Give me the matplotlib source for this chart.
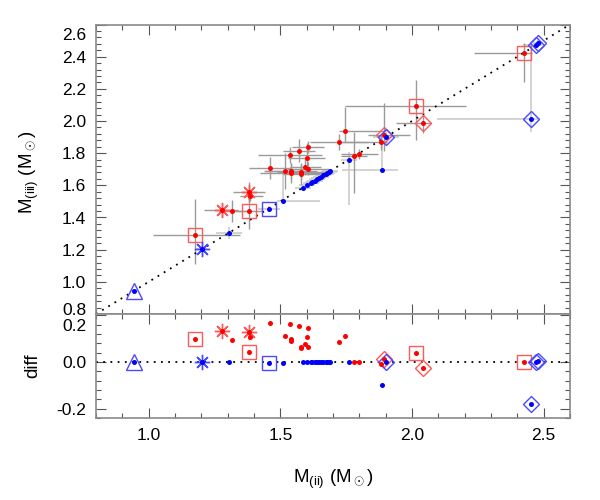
import numpy as np
import matplotlib
matplotlib.use('Agg')
from matplotlib import pyplot as plt
from matplotlib.ticker import MultipleLocator, FormatStrFormatter
from matplotlib.transforms import ScaledTranslation

plt.rcParams['font.family'] = ['Liberation Sans', 'DejaVu Sans']
plt.rcParams['mathtext.fontset'] = 'custom'
plt.rcParams['mathtext.rm'] = 'Liberation Sans'
plt.rcParams['mathtext.it'] = 'Liberation Sans:italic'

# red sample: M(ii), M(iii), asymmetric errors, symbol
red_x = [1.177, 1.279, 1.318, 1.382, 1.382, 1.385, 1.462, 1.519, 1.541, 1.541,
         1.579, 1.579, 1.595, 1.604, 1.537, 1.572, 1.604, 1.601, 1.722, 1.744,
         1.781, 1.799, 1.884, 1.894, 2.015, 2.041, 2.425]
red_y = [1.292, 1.446, 1.441, 1.441, 1.558, 1.535, 1.707, 1.690, 1.690, 1.676,
         1.682, 1.670, 1.717, 1.703, 1.788, 1.815, 1.838, 1.773, 1.871, 1.940,
         1.780, 1.796, 1.871, 1.915, 2.093, 1.985, 2.425]
red_xlo = [0.16, 0.07, 0.05, 0.05, 0.06, 0.04, 0.08, 0.08, 0.10, 0.12,
           0.09, 0.07, 0.06, 0.08, 0.12, 0.06, 0.06, 0.07, 0.11, 0.02,
           0.05, 0.07, 0.15, 0.06, 0.27, 0.10, 0.19]
red_xhi = [0.17, 0.06, 0.06, 0.05, 0.06, 0.05, 0.08, 0.06, 0.10, 0.12,
           0.09, 0.07, 0.06, 0.08, 0.12, 0.06, 0.06, 0.07, 0.11, 0.15,
           0.05, 0.07, 0.02, 0.10, 0.19, 0.03, 0.03]
red_ylo = [0.18, 0.04, 0.07, 0.11, 0.06, 0.03, 0.07, 0.11, 0.05, 0.06,
           0.05, 0.07, 0.05, 0.04, 0.05, 0.07, 0.04, 0.09, 0.05, 0.07,
           0.23, 0.03, 0.05, 0.10, 0.21, 0.06, 0.18]
red_yhi = [0.22, 0.04, 0.07, 0.11, 0.06, 0.03, 0.07, 0.11, 0.05, 0.06,
           0.05, 0.07, 0.05, 0.04, 0.05, 0.07, 0.04, 0.09, 0.05, 0.15,
           0.15, 0.03, 0.05, 0.20, 0.16, 0.06, 0.06]
red_sym = ['s', 'a', 'o', 's', 'a', 'o', 'o', 'o', 'o', 'o',
           'o', 'o', 'o', 'o', 'o', 'o', 'o', 'o', 'o', 'o',
           'o', 'o', 'o', 'D', 's', 'D', 's']

# blue sample
blue_x = [0.944, 1.201, 1.306, 1.457, 1.509,
          1.587, 1.602, 1.615, 1.622, 1.631, 1.638, 1.645, 1.653, 1.663, 1.672, 1.678, 1.686,
          1.689, 1.760, 1.885, 1.901, 2.451, 2.472, 2.479]
blue_y = [0.944, 1.203, 1.304, 1.452, 1.505,
          1.586, 1.600, 1.614, 1.621, 1.630, 1.637, 1.644, 1.652, 1.662, 1.671, 1.677, 1.685,
          1.688, 1.757, 1.695, 1.900, 2.012, 2.474, 2.484]
blue_xlo = [0.01, 0.02, 0.05, 0.04, 0.02,
            0.03, 0.03, 0.03, 0.03, 0.03, 0.03, 0.03, 0.03, 0.03, 0.03, 0.03, 0.03,
            0.03, 0.03, 0.15, 0.05, 0.355, 0.05, 0.02]
blue_xhi = [0.01, 0.02, 0.05, 0.04, 0.14,
            0.03, 0.03, 0.03, 0.03, 0.03, 0.03, 0.03, 0.03, 0.03, 0.03, 0.03, 0.03,
            0.03, 0.03, 0.06, 0.05, 0.035, 0.02, 0.02]
blue_ylo = [0.01, 0.02, 0.04, 0.02, 0.02,
            0.01, 0.01, 0.01, 0.01, 0.01, 0.01, 0.01, 0.01, 0.01, 0.01, 0.01, 0.01,
            0.01, 0.28, 0.01, 0.05, 0.08, 0.02, 0.02]
blue_yhi = [0.01, 0.02, 0.04, 0.02, 0.17,
            0.01, 0.01, 0.01, 0.01, 0.01, 0.01, 0.01, 0.01, 0.01, 0.01, 0.01, 0.01,
            0.01, 0.05, 0.21, 0.05, 0.46, 0.02, 0.02]
blue_sym = ['^', 'a', 'o', 's', 'o',
            'o', 'o', 'o', 'o', 'o', 'o', 'o', 'o', 'o', 'o', 'o', 'o',
            'o', 'o', 'o', 'D', 'D', 'D', 'D']

xlim = (0.8, 2.6)
ylim_top = (0.8, 2.6)
ylim_bot = (-0.24, 0.205)

sym_style = {'s': ('s', 10), 'a': ((8, 2, 0), 11), 'D': ('D', 8.5), '^': ('^', 11)}
frame = '#8a8a8a'


def style_axes(ax):
    for sp in ax.spines.values():
        sp.set_color(frame)
        sp.set_linewidth(1.2)
    ax.tick_params(which='both', direction='in', top=True, right=True,
                   color='#555555', labelsize=12.5, width=0.8)
    ax.tick_params(which='major', length=7)
    ax.tick_params(which='minor', length=3.5)
    ax.tick_params(axis='x', pad=7)
    ax.tick_params(axis='y', pad=7)
    ax.xaxis.set_major_locator(MultipleLocator(0.5))
    ax.xaxis.set_minor_locator(MultipleLocator(0.1))
    ax.set_xlim(*xlim)


def draw_sample(ax, x, y, sym, color, edge, dy=None):
    x = np.asarray(x)
    y = np.asarray(y) if dy is None else np.asarray(dy)
    ax.plot(x, y, 'o', ms=3.6, color=color, mew=0, zorder=4)
    sym = np.asarray(sym)
    for key, (mk, ms) in sym_style.items():
        sel = sym == key
        if sel.any():
            ax.plot(x[sel], y[sel], linestyle='none', marker=mk, ms=ms,
                    mfc='none', mec=edge, mew=1.0, zorder=3)


def nudge(ax, text, dy_px):
    for lab in ax.get_yticklabels():
        if lab.get_text() == text:
            lab.set_transform(lab.get_transform() +
                              ScaledTranslation(0, dy_px / 100, fig.dpi_scale_trans))


fig = plt.figure(figsize=(6, 5), dpi=100)
ax1 = fig.add_axes([0.16, 0.372, 0.79, 0.579])
ax2 = fig.add_axes([0.16, 0.164, 0.79, 0.208])

# top panel
ax1.plot(xlim, xlim, color='black', lw=1.3, linestyle=(0, (1, 3.0)), zorder=2)
ax1.errorbar(blue_x, blue_y, xerr=[blue_xlo, blue_xhi], yerr=[blue_ylo, blue_yhi],
             fmt='none', ecolor='#cccccc', elinewidth=1.2, capsize=0, zorder=1)
ax1.errorbar(red_x, red_y, xerr=[red_xlo, red_xhi], yerr=[red_ylo, red_yhi],
             fmt='none', ecolor='#9a9a9a', elinewidth=1.0, capsize=0, zorder=1)
draw_sample(ax1, red_x, red_y, red_sym, 'red', '#ff5a5a')
draw_sample(ax1, blue_x, blue_y, blue_sym, 'blue', '#4a4aff')
style_axes(ax1)
ax1.set_ylim(*ylim_top)
ax1.yaxis.set_major_locator(MultipleLocator(0.2))
ax1.yaxis.set_minor_locator(MultipleLocator(0.04))
ax1.yaxis.set_major_formatter(FormatStrFormatter('%.1f'))
ax1.tick_params(labelbottom=False)
ax1.set_ylabel(r'M$_{\rm (iii)}$ (M$_\odot$)', fontsize=13.5)
ax1.yaxis.set_label_coords(-0.115, 0.49)

# bottom panel: relative difference
red_diff = (np.array(red_y) - np.array(red_x)) / np.array(red_x)
blue_diff = (np.array(blue_y) - np.array(blue_x)) / np.array(blue_x)
ax2.axhline(0, color='black', lw=1.3, linestyle=(0, (1, 3.0)), zorder=2)
draw_sample(ax2, red_x, red_y, red_sym, 'red', '#ff5a5a', dy=red_diff)
draw_sample(ax2, blue_x, blue_y, blue_sym, 'blue', '#4a4aff', dy=blue_diff)
style_axes(ax2)
ax2.set_ylim(*ylim_bot)
ax2.yaxis.set_major_locator(MultipleLocator(0.2))
ax2.yaxis.set_minor_locator(MultipleLocator(0.04))
ax2.yaxis.set_major_formatter(FormatStrFormatter('%.1f'))
ax2.set_ylabel('diff', fontsize=13.5)
ax2.yaxis.set_label_coords(-0.115, 0.5)
ax2.set_xlabel(r'M$_{\rm (ii)}$ (M$_\odot$)', fontsize=13.5, labelpad=18)

fig.canvas.draw()
nudge(ax1, '2.6', -9)
nudge(ax1, '0.8', 5)
nudge(ax2, '0.2', -10)
fig.savefig('out.png', dpi=100)
